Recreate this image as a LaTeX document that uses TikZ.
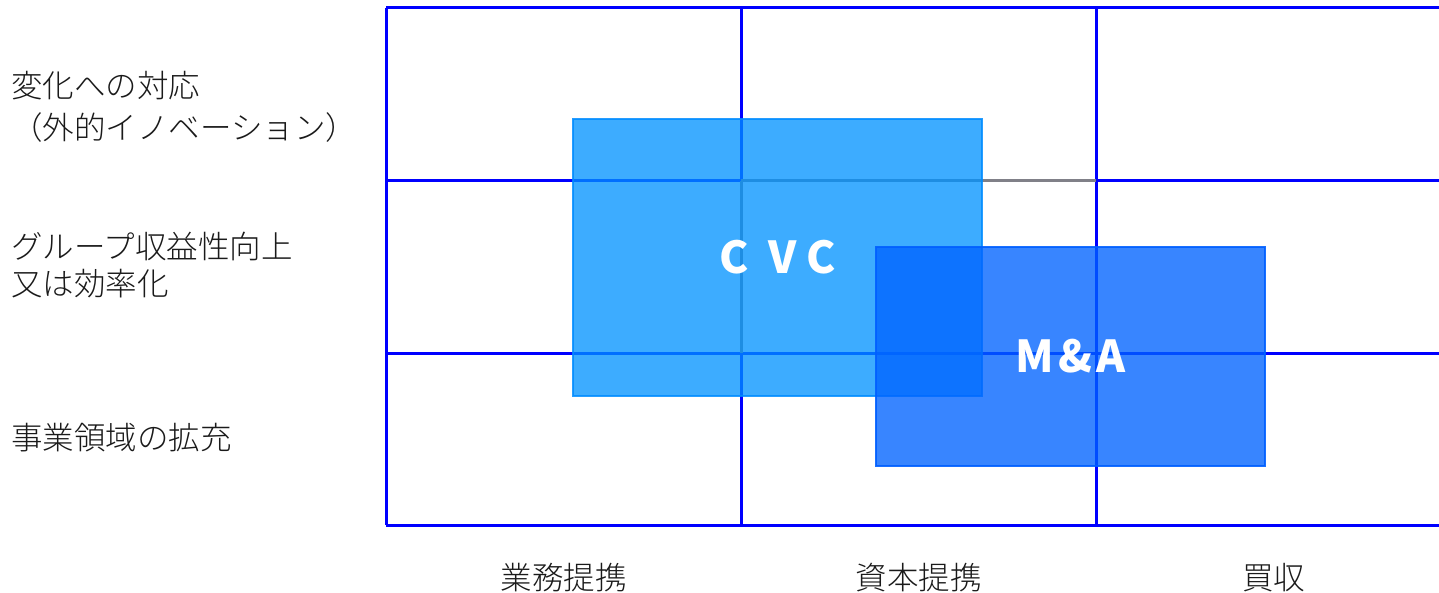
\documentclass[tikz,border=0pt]{standalone}
\usepackage{fontspec}
\setmainfont{Noto Sans CJK JP}
\newfontfamily\jplight{Noto Sans CJK JP Light}
\definecolor{gridblue}{RGB}{0,0,255}
\definecolor{gridgray}{RGB}{128,128,136}
\definecolor{cvcfill}{RGB}{0,146,255}
\definecolor{cvcline}{RGB}{0,140,255}
\definecolor{mafill}{RGB}{0,99,255}
\definecolor{maline}{RGB}{0,95,255}
\definecolor{txt}{RGB}{26,26,26}
\tikzset{
  gridline/.style={draw=gridblue, line width=3pt},
  grayline/.style={draw=gridgray, line width=3pt},
  lbl/.style={anchor=base west, inner sep=0pt, text=txt, font=\jplight\fontsize{31.5}{36}\selectfont},
  collbl/.style={anchor=base, inner sep=0pt, text=txt, font=\jplight\fontsize{31.5}{36}\selectfont},
  cvcbox/.style={rectangle, inner sep=0pt, fill=cvcfill, fill opacity=0.76, draw=cvcline, draw opacity=0.85, line width=2pt, text opacity=1, text=white, minimum width=409pt, minimum height=277pt, font=\bfseries\fontsize{44}{44}\selectfont},
  mabox/.style={rectangle, inner sep=0pt, fill=mafill, fill opacity=0.78, draw=maline, draw opacity=0.9, line width=2pt, text opacity=1, text=white, minimum width=389pt, minimum height=219pt, font=\bfseries\fontsize{44}{44}\selectfont}
}
\begin{document}
\begin{tikzpicture}[x=1pt, y=-1pt]
\useasboundingbox (0,0) rectangle (1439,593);
% grid coordinates
\coordinate (h1l) at (386,8);   \coordinate (h1r) at (1439,8);
\coordinate (h2l) at (386,181); \coordinate (h2r) at (1439,181);
\coordinate (h3l) at (386,353); \coordinate (h3r) at (1439,353);
\coordinate (h4l) at (386,525); \coordinate (h4r) at (1439,525);
\coordinate (v1t) at (386,8);  \coordinate (v1b) at (386,525);
\coordinate (v2t) at (741,8);  \coordinate (v2b) at (741,525);
\coordinate (v3t) at (1096,8); \coordinate (v3b) at (1096,525);
\coordinate (g1) at (741,181); \coordinate (g2) at (1096,181);
\coordinate (g3) at (741,353);
\draw[gridline] (h1l) -- (h1r);
\draw[gridline] (h2l) -- (h2r);
\draw[gridline] (h3l) -- (h3r);
\draw[gridline] (h4l) -- (h4r);
\draw[gridline] (v1t) -- (v1b);
\draw[gridline] (v2t) -- (v2b);
\draw[gridline] (v3t) -- (v3b);
\draw[grayline] (g1) -- (g2);
\draw[grayline] (g1) -- (g3);
% boxes
\node[cvcbox] (cvc) at (777.5,257.5) {C\kern20pt V\kern10pt C};
\node[mabox] (ma) at (1070.5,356.5) {M\kern4pt\&\kern4pt A};
% row labels
\node[lbl] (r1a) at (11,98) {変化への対応};
\node[lbl] (r1b) at (11,140) {（外的イノベーション）};
\node[lbl] (r2a) at (11,259) {グループ収益性向上};
\node[lbl] (r2b) at (11,296) {又は効率化};
\node[lbl] (r3) at (11,449) {事業領域の拡充};
% column labels
\node[collbl] (c1) at (563.5,589) {業務提携};
\node[collbl] (c2) at (918.5,589) {資本提携};
\node[collbl] (c3) at (1273.5,589) {買収};
\end{tikzpicture}
\end{document}
